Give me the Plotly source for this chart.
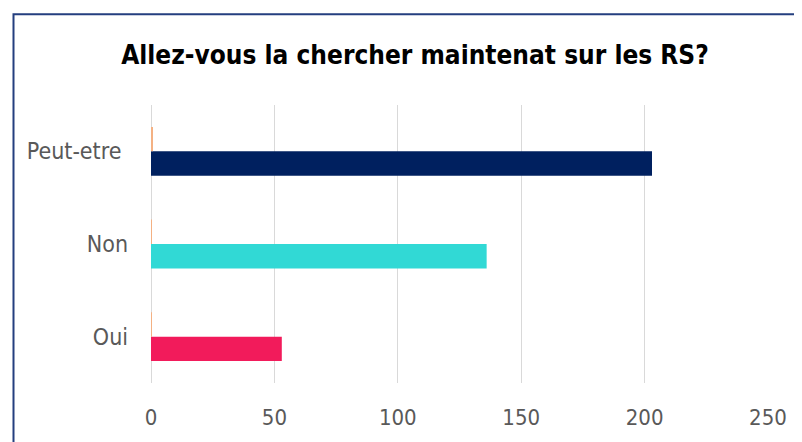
import plotly.graph_objects as go

categories = ["Oui", "Non", "Peut-etre"]
counts = [53, 136, 203]
shares = [0.135, 0.347, 0.518]
bar_colors = ["#F21B5B", "#31D9D5", "#00205F"]
tick_labels = ["Oui", "Non", "Peut-etre\u00a0"]
x_ticks = [0, 50, 100, 150, 200, 250]

FONT = "Liberation Sans Narrow, DejaVu Sans Condensed, Open Sans, sans-serif"

# page body has an 8px default margin; figure is sized to fit the window
W, H = 794, 434
OFF = 8
L, T = 151 - OFF, 105 - OFF
R = W - (768 - OFF)
B = H - (385 - OFF)
PW = W - L - R
PH = H - T - B

fig = go.Figure()
fig.add_trace(go.Bar(y=categories, x=counts, orientation="h",
                     marker=dict(color=bar_colors, line=dict(width=0)),
                     showlegend=False, hoverinfo="x+y"))
fig.add_trace(go.Bar(y=categories, x=shares, orientation="h",
                     marker=dict(color="#F4B183", line=dict(width=0)),
                     showlegend=False, hoverinfo="x+y"))

fig.update_layout(
    width=W, height=H,
    margin=dict(l=L, r=R, t=T, b=B),
    paper_bgcolor="white", plot_bgcolor="white",
    barmode="group", bargap=0.473, bargroupgap=0,
    title=dict(text="<b>Allez-vous la chercher maintenat sur les RS?</b>",
               x=(415 - OFF) / W, xref="container", xanchor="center",
               y=1 - (55 - OFF) / H, yref="container", yanchor="middle",
               font=dict(family=FONT, size=26, color="#000000")),
    font=dict(family=FONT, color="#595959"),
    xaxis=dict(range=[0, 250], tickvals=x_ticks, showgrid=True,
               gridcolor="#D9D9D9", gridwidth=1, zeroline=True,
               zerolinecolor="#D9D9D9", zerolinewidth=1, showline=False,
               ticks="", tickfont=dict(size=22, color="#595959"),
               ticklabelstandoff=19, fixedrange=True),
    yaxis=dict(categoryorder="array", categoryarray=categories,
               tickvals=categories, ticktext=tick_labels,
               showgrid=False, zeroline=False, showline=False, ticks="",
               tickfont=dict(size=23, color="#595959"),
               ticklabelstandoff=22, fixedrange=True),
    shapes=[dict(type="rect", xref="paper", yref="paper",
                 x0=(13.5 - OFF - L) / PW, x1=(830 - OFF - L) / PW,
                 y0=(PH + T - (460 - OFF)) / PH, y1=(PH + T - (13.5 - OFF)) / PH,
                 line=dict(color="#243F7F", width=2),
                 fillcolor="rgba(0,0,0,0)", layer="above")],
)

fig.write_html("out.html")
